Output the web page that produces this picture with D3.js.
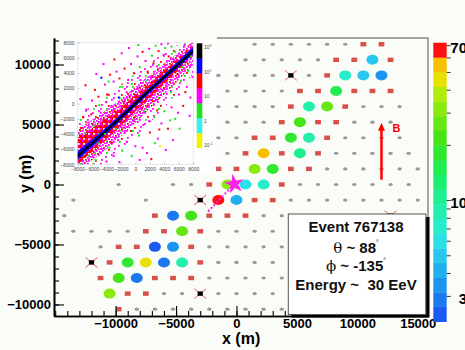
<!DOCTYPE html>
<html>
<head>
<meta charset="utf-8">
<script src="https://cdn.jsdelivr.net/npm/d3@7"></script>
<style>
  body { margin: 0; background: #fff; }
  svg { display: block; font-family: "Liberation Sans", Arial, sans-serif; }
  text { white-space: pre; }
</style>
</head>
<body>
<div id="chart"></div>
<script>
// station lattice: x = 750 m * col, y = 1299 m * row
const grayRows = [
  [9, [2, 4, 6, 8, 10, 12]],
  [8, [1, 3, 5, 7, 9]],
  [7, [-2, 0, 2, 4, 8]],
  [6, [-1, 1, 3, 5]],
  [5, [-2, 0, 2, 4, 14, 16, 18]],
  [4, [-1, 1, 3, 13, 15, 17]],
  [3, [-2, 0, 12, 14, 16, 18]],
  [2, [-1, 11, 13, 15, 17, 19]],
  [1, [10, 12, 14, 16, 18, 20]],
  [0, [-13, -7, -5, 7, 9, 11, 13, 15, 17, 19]],
  [-1, [-18, -10, 6, 8, 10, 12, 14, 16, 18, 20]],
  [-2, [-19, 3, 5, 7, 9, 11, 13, 15, 19]],
  [-3, [-18, -16, -14, -12, -2, 0, 2, 4]],
  [-4, [-15, -3, -1, 1, 3, 5]],
  [-5, [-2, 0, 2, 4]],
  [-6, [-3, -1, 1, 3, 5]],
  [-7, [-8, -6, -2, 0, 2, 4]],
  [-8, [-11, -9, -7, -5, -3, -1, 1, 3, 5]]
];
const redRows = [
  [9, [14, 16]],
  [8, [11, 13, 17]],
  [7, [10]],
  [6, [7, 9, 13, 15, 17]],
  [5, [6, 12]],
  [4, [5, 9, 11]],
  [3, [2, 4, 10]],
  [2, [1, 5, 9]],
  [1, [-2, 0, 6, 8]],
  [0, [-3, 5]],
  [-1, [2, 4]],
  [-2, [-9, -3, -1, 1]],
  [-3, [-10, -8, -4]],
  [-4, [-13, -11, -5]],
  [-5, [-14, -4]],
  [-6, [-15, -9, -7, -5]],
  [-7, [-12, -10]],
  [-8, [-13]]
];
// [col, row, signal (VEM)]
const hitStations = [
  [15, 8, 5.0],
  [12, 7, 7.2], [14, 7, 5.0], [16, 7, 3.2],
  [11, 6, 15],
  [8, 5, 8.7], [10, 5, 26],
  [7, 4, 21.8],
  [6, 3, 18], [8, 3, 8.7],
  [3, 2, 55], [7, 2, 10.4],
  [2, 1, 31.5], [4, 1, 18],
  [-1, 0, 31.5], [1, 0, 6.0], [3, 0, 7.2],
  [-2, -1, 66], [0, -1, 4.1],
  [-7, -2, 2.8], [-5, -2, 21.8],
  [-6, -3, 26],
  [-9, -4, 2.4], [-7, -4, 3.4],
  [-12, -5, 18], [-10, -5, 45.5], [-8, -5, 2.9], [-6, -5, 8.7],
  [-13, -6, 21.8], [-11, -6, 3.0],
  [-14, -7, 31.5]
];
const deadStations = [[6, 7], [-4, -1], [-16, -5], [-4, -7], [17, -2]];
const corePos = [-180, 40];
const axisFoot = [-2350, -2250];
const bArrow = [[12000, 400], [12000, 5150]];

const xTicks = [-10000, -5000, 0, 5000, 10000, 15000];
const yTicks = [-10000, -5000, 0, 5000, 10000];

// colour palette of the signal bar, bottom to top
const signalColors = ["#1a5af0", "#1b78ef", "#1c95ee", "#20b0ee", "#28c8ee", "#2ae0e6",
  "#28eccc", "#22eeae", "#1eee90", "#1cee70", "#20ec50", "#30e830", "#44e418",
  "#66e612", "#8aea10", "#b0ec0c", "#e8e000", "#f8c000", "#ff1010"];
const signalLabels = [70, 10, 3];
const signalTicks = [3, 4, 5, 6, 7, 8, 9, 10, 20, 30, 40, 50, 60, 70];

const eventLines = ["Event 767138", "θ ~ 88", "ϕ ~ -135", "Energy ~  30 EeV"];

// inset: reconstructed vs true core position
const insetTicks = [-8000, -6000, -4000, -2000, 0, 2000, 4000, 6000, 8000];
const insetBandX = [-8000, -6000, -4000, -2000, 0, 2000, 4000, 6000, 8000];
const insetCoreY = [-6900, -5250, -3550, -1800, 0, 1780, 3500, 5200, 6950];
const outerHi = [5200, 5000, 4600, 4300, 4000, 3600, 3200, 2600, 2000];
const outerLo = [-3200, -3600, -4000, -4300, -4400, -4300, -4000, -3600, -3000];
const magentaHi = [3600, 3100, 2700, 2400, 2200, 2000, 1800, 1500, 1200];
const magentaLo = [-2000, -2200, -2400, -2500, -2500, -2400, -2300, -2100, -1800];
const redHi = [2400, 2000, 1600, 1300, 1100, 1000, 900, 800, 700];
const redLo = [-1100, -1100, -1100, -1100, -1000, -1000, -900, -800, -700];
const blueHi = [650, 550, 450, 400, 380, 380, 400, 450, 520];
const blueLo = [-550, -450, -400, -380, -380, -380, -380, -420, -480];
const insetColors = ["#f2f200", "#33f0f0", "#22e022", "#ff00ff", "#ff0000", "#0000ff", "#000000"];
const insetLabels = [0.1, 1, 10, 100, 1000];
const insetDots = [
  [-6500, -2500, 8], [-7200, -1800, 40], [-6800, -800, 8], [-5600, 1800, 40], [-5100, 900, 40],
  [-4700, 3400, 200], [-4200, 2500, 8], [-3900, 1200, 40], [-3500, 3800, 40], [-3000, 2900, 8],
  [-2600, 4200, 8], [-2200, 3300, 40], [-1800, 2200, 2], [-1500, 4600, 40], [-1000, 3100, 8],
  [-600, 5200, 8], [-200, 4000, 40], [300, 6200, 8], [600, 4800, 2], [1000, 6800, 40],
  [1400, 5600, 8], [1900, 7200, 8], [2300, 6300, 2], [2800, 7600, 2], [3200, 6900, 40],
  [3600, 7800, 8], [4100, 7300, 2], [4500, 7900, 8], [5000, 7500, 2], [-4800, -1200, 8],
  [-5800, -2900, 2], [-3300, -300, 8], [-2300, 800, 200], [-7500, -3200, 40], [-6200, -3600, 8],
  [-4000, 200, 8], [-1200, 1500, 8], [-500, 2600, 2], [700, 3100, 8], [1700, 4200, 40],
  [-7000, -7800, 8], [-5500, -7400, 2], [-4800, -6500, 8], [-4000, -7600, 8], [-3600, -5800, 2],
  [-3000, -6900, 8], [-2400, -4800, 8], [-1800, -6200, 2], [-1200, -5000, 8], [-600, -3600, 40],
  [0, -5600, 8], [500, -4200, 2], [1100, -2800, 8], [1600, -6500, 8], [2000, -3800, 40],
  [2600, -1800, 2], [3100, -4600, 8], [3600, -2600, 8], [4000, -1000, 2], [4500, -3300, 40],
  [5000, -500, 8], [5500, -2000, 2], [6000, 1200, 8], [6600, -300, 40], [7100, 2200, 8],
  [7600, 800, 8], [3400, -5600, 0.15], [2200, -7300, 40], [4900, 1500, 2], [6300, 3000, 2],
  [-5100, -5200, 2], [-6400, -6900, 2], [2900, 500, 8], [1200, -1000, 2], [-200, -2300, 8],
  [5800, 3900, 40], [7300, 4300, 2], [3700, 1800, 8], [-2700, -3300, 2], [4200, -6100, 8],
  [600, -7400, 8], [1500, 3000, 0.5], [-6000, 400, 8], [-3700, 2900, 2], [2500, 5300, 40],
  [3900, 6400, 8], [5500, 6800, 2], [6800, 7700, 8], [6200, 6100, 40], [7000, 5600, 8],
  [-7800, -4800, 40], [-7300, -5600, 8], [-6600, -4500, 40], [-5300, -3300, 8], [-4400, -2100, 40],
  [-2900, -1000, 40], [-1600, 200, 40], [-7000, -6300, 200], [-6000, -6200, 40], [-4600, -4600, 8],
  [-3200, -3800, 40], [-1500, -3100, 8], [900, -600, 40], [2400, 300, 40], [4300, 2400, 8],
  [-7600, 600, 8], [-6900, 2400, 40], [-5400, 3900, 8], [-4400, 5200, 8], [-2900, 5800, 40],
  [-1900, 6600, 8], [-900, 7300, 8], [400, 7700, 2], [-6100, -1400, 40], [-5000, -200, 2],
  [-3800, -1600, 8], [-2000, -300, 8], [-800, 900, 40], [300, 2100, 8], [1300, 2400, 40],
  [2200, 3600, 8], [3000, 4900, 8], [4600, 6200, 40], [5300, 5800, 8], [6500, 4800, 2],
  [7700, 6200, 2], [7900, 3500, 8], [6900, 1500, 40], [5900, -1200, 8], [4800, -2200, 2],
  [3300, -3400, 40], [2700, -5200, 2], [1000, -5800, 8], [-500, -6900, 2], [-2200, -7700, 8],
  [-3300, -5100, 40], [-4200, -4000, 2], [-5700, -5600, 8], [-6900, -3900, 2], [7500, -1600, 8],
  [6100, -3300, 2], [5200, -4800, 8], [-7700, -7300, 40], [1900, -2300, 8], [3000, -900, 40]
];

const W = 465, H = 350;
const svg = d3.select("#chart").append("svg").attr("width", W).attr("height", H);
svg.append("rect").attr("width", W).attr("height", H).attr("fill", "#fafcf8");

const x = d3.scaleLinear().domain([-15100, 15850]).range([54, 428]);
const y = d3.scaleLinear().domain([-10960, 12210]).range([316, 38]);
const DX = 750, DY = 1299;
const px = c => x(c * DX), py = k => y(k * DY);

const sigScale = d3.scaleLog().domain([2.17, 72.2]).range([321.7, 42.7]);
const bandH = (321.7 - 42.7) / signalColors.length;
const bandEdges = d3.range(signalColors.length + 1).map(i => sigScale.invert(321.7 - i * bandH));
const sigColor = d3.scaleThreshold().domain(bandEdges.slice(1, -1)).range(signalColors);

const flat = rows => rows.flatMap(([k, cs]) => cs.map(c => [c, k]));

// gray: stations without signal
svg.append("g").selectAll("ellipse").data(flat(grayRows)).join("ellipse")
  .attr("cx", d => px(d[0])).attr("cy", d => py(d[1]))
  .attr("rx", 2.2).attr("ry", 1.6).attr("fill", "#999");

// red squares: triggered but not in the event
svg.append("g").selectAll("rect").data(flat(redRows)).join("rect")
  .attr("x", d => px(d[0]) - 2.9).attr("y", d => py(d[1]) - 2.2)
  .attr("width", 5.8).attr("height", 4.4).attr("fill", "#d8504a");

// dead stations
const dead = svg.append("g").selectAll("g").data(deadStations).join("g")
  .attr("transform", d => `translate(${px(d[0])},${py(d[1])})`);
dead.append("path").attr("d", "M-6,-5L6,5M-6,5L6,-5")
  .attr("stroke", "#f08a8a").attr("stroke-width", 1.2);
dead.append("rect").attr("x", -2.6).attr("y", -2.2).attr("width", 5.2).attr("height", 4.4).attr("fill", "#000");

// event stations
svg.append("g").selectAll("ellipse").data(hitStations).join("ellipse")
  .attr("cx", d => px(d[0])).attr("cy", d => py(d[1]))
  .attr("rx", 6).attr("ry", 5).attr("fill", d => sigColor(d[2]));

// shower axis projection and core
svg.append("line")
  .attr("x1", x(corePos[0])).attr("y1", y(corePos[1]))
  .attr("x2", x(axisFoot[0])).attr("y2", y(axisFoot[1]))
  .attr("stroke", "#ff22ee").attr("stroke-width", 2).attr("stroke-dasharray", "2,2");
svg.append("path")
  .attr("d", d3.symbol(d3.symbolStar, 120)())
  .attr("transform", `translate(${x(corePos[0])},${y(corePos[1])}) rotate(-10)`)
  .attr("fill", "#ff22ee");

// ---- inset ----
const ins = svg.append("g");
ins.append("rect").attr("x", 62).attr("y", 38.5).attr("width", 154).attr("height", 134.5).attr("fill", "#fdfefd");
const ix = d3.scaleLinear().domain([-8000, 8000]).range([77.5, 193.3]);
const iy = d3.scaleLinear().domain([-8000, 8000]).range([164.5, 42.7]);
const defs = svg.append("defs");
defs.append("clipPath").attr("id", "insClip").append("rect")
  .attr("x", 77.5).attr("y", 42.7).attr("width", 115.8).attr("height", 121.8);

const speckle = (id, w, h, bg, cells) => {
  const p = defs.append("pattern").attr("id", id).attr("patternUnits", "userSpaceOnUse")
    .attr("width", w).attr("height", h);
  if (bg) p.append("rect").attr("width", w).attr("height", h).attr("fill", bg);
  cells.forEach(([cx, cy, col]) => p.append("rect").attr("x", cx).attr("y", cy)
    .attr("width", 1.8).attr("height", 1.8).attr("fill", col));
};
speckle("spkO", 13, 11, null, [[1, 2, "#ff00ff"], [7, 0, "#ff00ff"], [4, 6, "#ff0000"],
  [10, 5, "#ff00ff"], [2, 9, "#22e022"], [9, 9, "#ff00ff"]]);
speckle("spkM", 6, 6, null, [[0, 0, "#ff00ff"], [3, 1, "#ff00ff"], [1, 3, "#ff0000"],
  [4, 4, "#ff00ff"], [2, 5, "#ff00ff"], [5, 2, "#22e022"]]);
speckle("spkR", 5, 5, "#ff0000", [[2, 0, "#ff00ff"], [0, 3, "#ff00ff"], [3, 3, "#fff"]]);

const insColor = d3.scaleLog().domain([0.08, 1500]).range([147.7, 43.3]);
const insBandH = (147.7 - 43.3) / insetColors.length;
const insEdges = d3.range(insetColors.length + 1).map(i => insColor.invert(147.7 - i * insBandH));
const insFill = d3.scaleThreshold().domain(insEdges.slice(1, -1)).range(insetColors);

const plot = ins.append("g").attr("clip-path", "url(#insClip)");
const band = (hi, lo) => d3.area()
  .x(i => ix(insetBandX[i]))
  .y0(i => iy(insetCoreY[i] + lo[i]))
  .y1(i => iy(insetCoreY[i] + hi[i]))(d3.range(insetBandX.length));
plot.append("path").attr("d", band(outerHi, outerLo)).attr("fill", "url(#spkO)");
plot.append("path").attr("d", band(magentaHi, magentaLo)).attr("fill", "url(#spkM)");
plot.append("path").attr("d", band(redHi, redLo)).attr("fill", "url(#spkR)");
plot.append("path").attr("d", band(blueHi, blueLo)).attr("fill", "#0a0af5");
plot.append("path")
  .attr("d", d3.line().x(i => ix(insetBandX[i])).y(i => iy(insetCoreY[i]))(d3.range(insetBandX.length)))
  .attr("fill", "none").attr("stroke", "#000").attr("stroke-width", 2);
plot.selectAll("rect.dot").data(insetDots).join("rect").attr("class", "dot")
  .attr("x", d => ix(d[0]) - 1).attr("y", d => iy(d[1]) - 1)
  .attr("width", 2).attr("height", 2).attr("fill", d => insFill(d[2]));
ins.append("rect").attr("x", 77.5).attr("y", 42.7).attr("width", 115.8).attr("height", 121.8)
  .attr("fill", "none").attr("stroke", "#bbb").attr("stroke-width", 0.6).attr("stroke-dasharray", "1,1");

const insAx = (g, ax) => {
  g.call(ax);
  g.select(".domain").remove();
  g.selectAll("line").attr("stroke", "#999").attr("stroke-width", 0.5);
  g.selectAll("text").attr("font-size", 5).attr("fill", "#444").attr("font-family", "Liberation Sans, Arial, sans-serif");
};
ins.append("g").attr("transform", "translate(77.5,0)")
  .call(g => insAx(g, d3.axisLeft(iy).tickValues(insetTicks).tickSize(-2).tickPadding(3).tickFormat(d3.format("d"))));
ins.append("g").attr("transform", "translate(0,164.5)")
  .call(g => insAx(g, d3.axisBottom(ix).tickValues(insetTicks).tickSize(-2).tickPadding(2.5).tickFormat(d3.format("d"))));

ins.append("g").selectAll("rect").data(insetColors).join("rect")
  .attr("x", 196.7).attr("width", 5.6)
  .attr("y", (c, i) => 147.7 - (i + 1) * insBandH).attr("height", insBandH + 0.3)
  .attr("fill", c => c);
const insLab = ins.append("g").selectAll("text").data(insetLabels).join("text")
  .attr("x", 204).attr("y", d => insColor(d)).attr("dy", "0.35em")
  .attr("font-size", 5).attr("fill", "#444");
insLab.append("tspan").text("10");
insLab.filter(d => d !== 1 && d !== 10).append("tspan")
  .attr("font-size", 3.5).attr("dy", -2).text(d => Math.round(Math.log10(d)));
insLab.filter(d => d === 1).text("1");

// ---- main frame and axes ----
svg.append("path").attr("d", `M${217},${y.range()[1]}H${x.range()[1]}V${y.range()[0]}`)
  .attr("fill", "none").attr("stroke", "#888").attr("stroke-width", 1.5);

const styleAxis = g => {
  g.select(".domain").attr("stroke", "#000").attr("stroke-width", 1.6);
  g.selectAll(".tick line").attr("stroke", "#000").attr("stroke-width", 1.1);
  g.selectAll("text").attr("font-size", 13).attr("font-weight", "bold").attr("fill", "#000")
    .attr("font-family", "Liberation Sans, Arial, sans-serif");
};
const plain = d3.format("d");
svg.append("g").attr("transform", `translate(54,0)`)
  .call(d3.axisLeft(y).tickValues(d3.range(-10000, 12001, 1000)).tickSize(-5).tickSizeOuter(0).tickFormat(""))
  .call(styleAxis);
svg.append("g").attr("transform", `translate(54,0)`)
  .call(d3.axisLeft(y).tickValues(yTicks).tickSize(-10).tickSizeOuter(0).tickPadding(3).tickFormat(plain))
  .call(styleAxis);
svg.append("g").attr("transform", `translate(0,316)`)
  .call(d3.axisBottom(x).tickValues(d3.range(-15000, 15001, 1000)).tickSize(-5).tickSizeOuter(0).tickFormat(""))
  .call(styleAxis);
svg.append("g").attr("transform", `translate(0,316)`)
  .call(d3.axisBottom(x).tickValues(xTicks).tickSize(-10).tickSizeOuter(0).tickPadding(3).tickFormat(plain))
  .call(styleAxis);

svg.append("text").attr("x", 222).attr("y", 344)
  .attr("font-size", 16).attr("font-weight", "bold").text("x (m)");
svg.append("text").attr("transform", "translate(31,193) rotate(-90)")
  .attr("font-size", 16).attr("font-weight", "bold").text("y (m)");

// magnetic field arrow
const bx = x(bArrow[0][0]), by0 = y(bArrow[0][1]), by1 = y(bArrow[1][1]);
svg.append("line").attr("x1", bx).attr("x2", bx).attr("y1", by0).attr("y2", by1 + 6)
  .attr("stroke", "#ff0000").attr("stroke-width", 2.5);
svg.append("path").attr("d", `M${bx},${by1}L${bx - 3.5},${by1 + 8}L${bx + 3.5},${by1 + 8}Z`).attr("fill", "#ff0000");
svg.append("text").attr("x", bx + 11).attr("y", by1 + 9)
  .attr("font-size", 11).attr("font-weight", "bold").attr("fill", "#ff0000").text("B");

// ---- event box ----
const box = svg.append("g");
box.append("rect").attr("x", 291.5).attr("y", 217).attr("width", 138).attr("height", 100.5).attr("fill", "#000");
box.append("rect").attr("x", 288.3).attr("y", 214).attr("width", 137.5).attr("height", 100.5)
  .attr("fill", "#fff").attr("stroke", "#555").attr("stroke-width", 1);
const lineY = [231.5, 252.5, 270.5, 290];
const evt = box.selectAll("text").data(eventLines).join("text")
  .attr("x", 356).attr("y", (d, i) => lineY[i]).attr("text-anchor", "middle")
  .attr("font-size", 15).attr("font-weight", "bold").attr("fill", "#111");
evt.filter((d, i) => i === 0 || i === 3).text(d => d);
evt.filter((d, i) => i === 1 || i === 2).each(function (d) {
  const t = d3.select(this);
  t.append("tspan").attr("font-family", "DejaVu Serif, serif").attr("font-weight", "normal").text(d[0]);
  t.append("tspan").text(d.slice(1));
  t.append("tspan").attr("font-size", 7).attr("font-weight", "normal").attr("dy", -8).text("°");
});

// ---- signal colour bar ----
svg.append("g").selectAll("rect").data(signalColors).join("rect")
  .attr("x", 433.3).attr("width", 13.4)
  .attr("y", (c, i) => 321.7 - (i + 1) * bandH).attr("height", bandH + 0.3)
  .attr("fill", c => c);
svg.append("g").attr("transform", "translate(446.7,0)")
  .call(d3.axisRight(sigScale).tickValues(signalTicks).tickSize(4).tickFormat(""))
  .call(g => g.select(".domain").remove())
  .call(g => g.selectAll("line").attr("stroke", "#333"));
svg.append("g").selectAll("text").data(signalLabels).join("text")
  .attr("x", 467).attr("text-anchor", "end")
  .attr("y", d => Math.max(sigScale(d) + 3, 38.5)).attr("dy", "0.35em")
  .attr("font-size", 15).attr("font-weight", "bold").text(d => d);
</script>
</body>
</html>
